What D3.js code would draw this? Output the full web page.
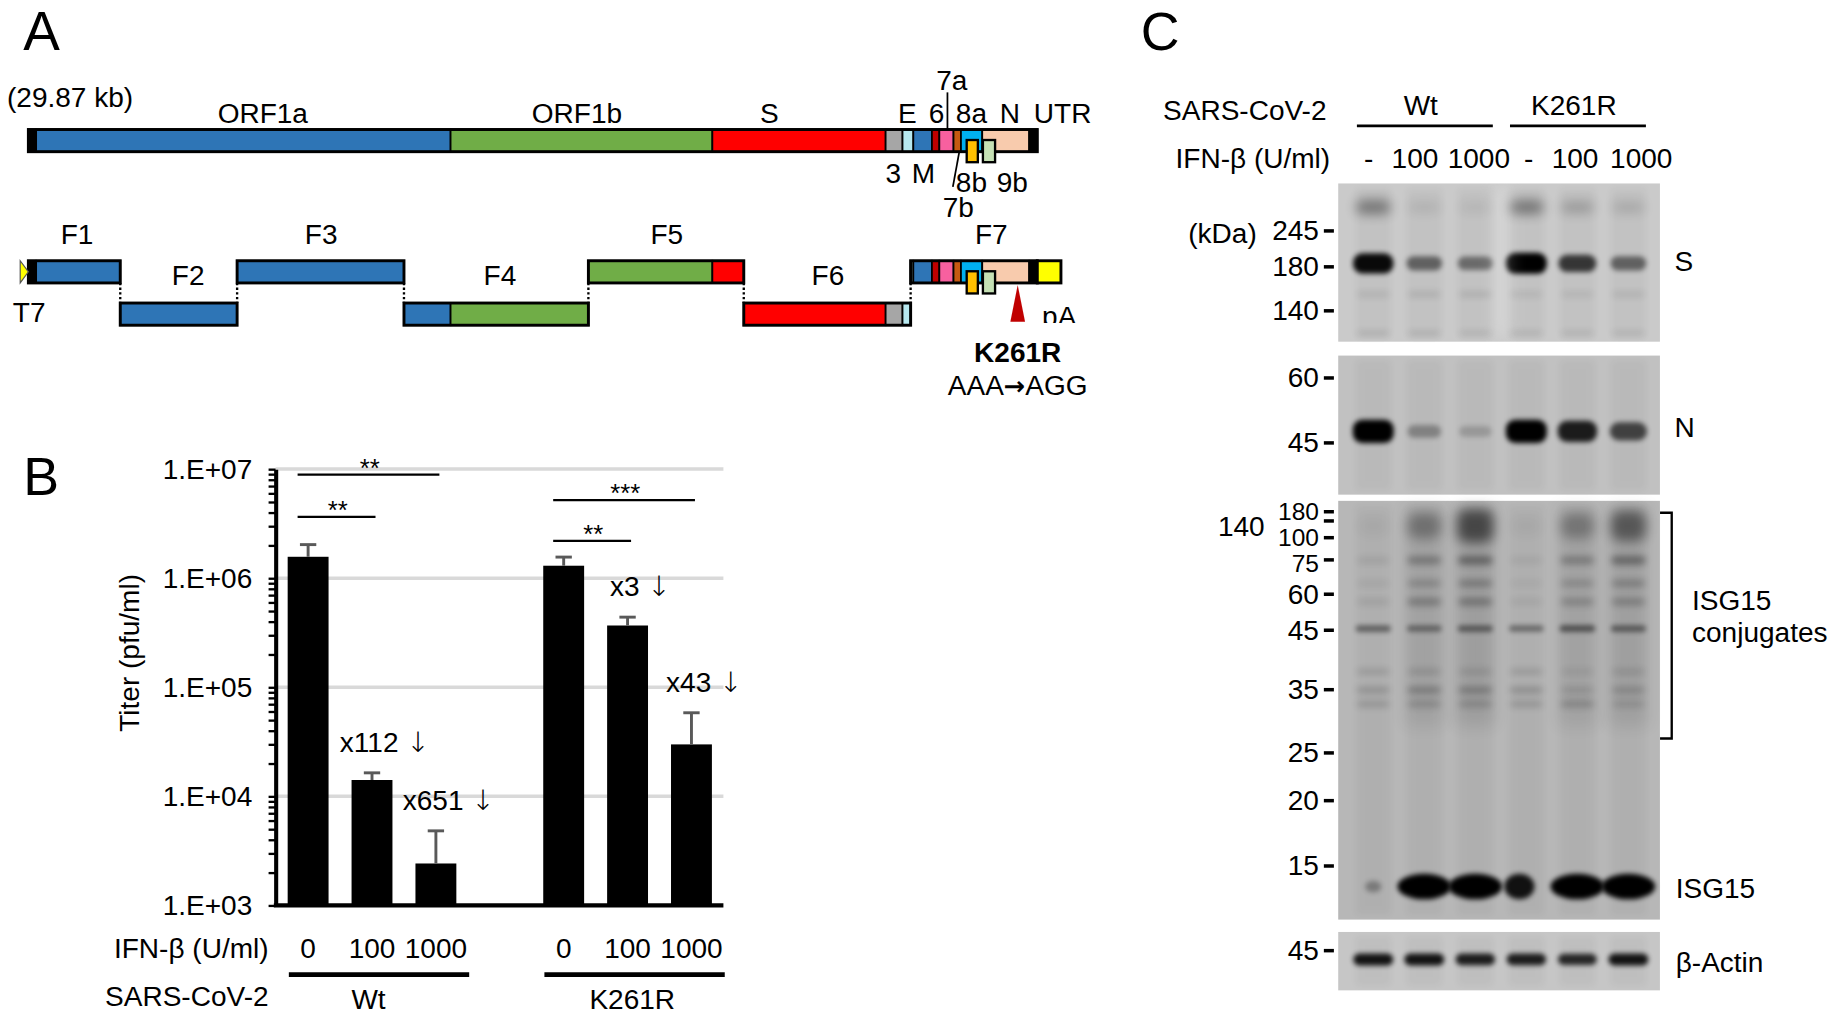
<!DOCTYPE html>
<html>
<head>
<meta charset="utf-8">
<script src="https://cdn.jsdelivr.net/npm/d3@7"></script>
<style>
  body { margin: 0; background: #fff; }
  text { font-family: "Liberation Sans", Arial, sans-serif; font-size: 24px; fill: #000; }
  .arrow { font-family: "DejaVu Sans", sans-serif; }
</style>
</head>
<body>
<div id="fig"></div>
<script>
// ---------------- Panel A : genome map (schematic, kb) ----------------
var genomeLength = 29.87;
var geneNames = ["5'", "ORF1a", "ORF1b", "S", "3", "E", "M", "6", "7a", "7b", "8a", "N", "UTR"];
var geneStart = [0, 0.23, 12.50, 20.25, 25.38, 25.88, 26.20, 26.75, 26.97, 27.39, 27.61, 28.24, 29.63];
var geneEnd   = [0.23, 12.50, 20.25, 25.38, 25.88, 26.20, 26.75, 26.97, 27.39, 27.61, 28.24, 29.63, 29.87];
var nestedNames = ["8b", "9b"];
var nestedStart = [27.78, 28.26];
var nestedEnd   = [28.11, 28.62];
var fragNames = ["F1", "F2", "F3", "F4", "F5", "F6", "F7"];
var fragStart = [0, 2.72, 6.18, 11.12, 16.58, 21.18, 26.12];
var fragEnd   = [2.72, 6.18, 11.12, 16.58, 21.18, 26.12, 29.87];
var polyA = [29.87, 30.57];
var mutationKb = 29.29;

// ---------------- Panel B : virus titers ----------------
var groups = ["Wt", "K261R"];
var doses = ["0", "100", "1000"];
var titer    = [1.57e6, 1.41e4, 2.42e3, 1.30e6, 3.68e5, 2.99e4];
var titerTop = [2.03e6, 1.64e4, 4.82e3, 1.56e6, 4.39e5, 5.83e4];   // mean + SD
var foldText = ["", "x112", "x651", "", "x3", "x43"];
var sigFrom  = [0, 0, 3, 3];
var sigTo    = [2, 1, 5, 4];
var sigLevel = [8.9e6, 3.65e6, 5.2e6, 2.2e6];
var sigText  = ["**", "**", "***", "**"];

// ---------------- Panel C : western blots ----------------
var laneGroups = ["Wt", "K261R"];
var laneDoses = ["-", "100", "1000", "-", "100", "1000"];
var sMarkers = [245, 180, 140],  sMarkerRf = [0.30, 0.527, 0.805];
var nMarkers = [60, 45],         nMarkerRf = [0.161, 0.628];
var isgMarkers = [180, 140, 100, 75, 60, 45, 35, 25, 20, 15];
var isgMarkerRf = [0.026, 0.048, 0.088, 0.141, 0.223, 0.309, 0.451, 0.602, 0.716, 0.872];
var actMarkers = [45],           actMarkerRf = [0.32];
// band rows: relative migration + intensity per lane
var sRows = [
  {rf: 0.15,  v: [0.4, 0.1, 0.08, 0.4, 0.22, 0.15]},
  {rf: 0.505, v: [0.95, 0.5, 0.45, 1.0, 0.72, 0.5]},
  {rf: 0.70,  v: [0.12, 0.14, 0.14, 0.1, 0.1, 0.12]},
  {rf: 0.95,  v: [0.14, 0.14, 0.12, 0.12, 0.12, 0.12]}
];
var nRows = [ {rf: 0.545, v: [1.0, 0.3, 0.18, 1.0, 0.85, 0.65]} ];
var isgRows = [
  {rf: 0.06,  v: [0.04, 0.3, 0.55, 0.04, 0.28, 0.45]},
  {rf: 0.142, v: [0.1, 0.3, 0.4, 0.08, 0.28, 0.38]},
  {rf: 0.197, v: [0.08, 0.22, 0.28, 0.06, 0.2, 0.25]},
  {rf: 0.241, v: [0.1, 0.28, 0.3, 0.08, 0.22, 0.25]},
  {rf: 0.305, v: [0.45, 0.4, 0.45, 0.4, 0.5, 0.45]},
  {rf: 0.408, v: [0.16, 0.16, 0.14, 0.16, 0.1, 0.14]},
  {rf: 0.452, v: [0.2, 0.28, 0.28, 0.22, 0.15, 0.2]},
  {rf: 0.485, v: [0.18, 0.2, 0.2, 0.18, 0.22, 0.15]}
];
var isgFree = [0.3, 1, 1, 0.9, 1, 1];
var actinRows = [ {rf: 0.47, v: [0.9, 0.9, 0.85, 0.85, 0.8, 0.9]} ];

// ---------------- drawing ----------------
var W = 1568, H = 869;
var svg = d3.select("#fig").append("svg")
    .attr("width", 1831).attr("height", 1015)
    .attr("viewBox", `0 0 ${W} ${H}`);

var defs = svg.append("defs");
[["b2", 2.2], ["b3", 3.2], ["b5", 5], ["b7", 7]].forEach(function(f) {
  defs.append("filter").attr("id", f[0]).attr("x", "-80%").attr("y", "-200%")
      .attr("width", "260%").attr("height", "500%")
    .append("feGaussianBlur").attr("stdDeviation", f[1]);
});
defs.append("clipPath").attr("id", "paClip")
  .append("rect").attr("x", 880).attr("y", 250).attr("width", 60).attr("height", 26.5);

var geneColor = {
  "5'": "#000", "ORF1a": "#2e75b6", "ORF1b": "#70ad47", "S": "#ff0000", "3": "#a6a6a6",
  "E": "#b7e8ef", "M": "#2e75b6", "6": "#c00000", "7a": "#f7609f", "7b": "#c55a11",
  "8a": "#00b0f0", "N": "#f8cbad", "UTR": "#000", "8b": "#ffc000", "9b": "#c5e0b4", "pA": "#ffff00"
};

function label(g, txt, x, y, anchor, size, weight) {
  return g.append("text").attr("x", x).attr("y", y)
    .attr("text-anchor", anchor || "middle")
    .style("font-size", (size || 24) + "px")
    .style("font-weight", weight || "normal")
    .text(txt);
}

// ===== Panel A =====
var gA = svg.append("g");
var xA = d3.scaleLinear().domain([0, genomeLength]).range([24.3, 888.3]);
var trackH = 19;

function drawTrack(from, to, y) {
  geneNames.forEach(function(n, i) {
    var s = Math.max(geneStart[i], from), e = Math.min(geneEnd[i], to);
    if (e <= s) return;
    gA.append("rect").attr("x", xA(s)).attr("y", y)
      .attr("width", xA(e) - xA(s)).attr("height", trackH)
      .attr("fill", geneColor[n]).attr("stroke", "#000").attr("stroke-width", 1.5);
  });
  gA.append("rect").attr("x", xA(from)).attr("y", y)
    .attr("width", xA(to) - xA(from)).attr("height", trackH)
    .attr("fill", "none").attr("stroke", "#000").attr("stroke-width", 2.5);
  nestedNames.forEach(function(n, i) {
    if (nestedStart[i] < from || nestedEnd[i] > to) return;
    gA.append("rect").attr("x", xA(nestedStart[i])).attr("y", y + 9)
      .attr("width", xA(nestedEnd[i]) - xA(nestedStart[i])).attr("height", trackH)
      .attr("fill", geneColor[n]).attr("stroke", "#000").attr("stroke-width", 2);
  });
}

label(gA, "A", 20, 43, "start", 47);
label(gA, "(29.87 kb)", 6, 91.5, "start");

// full genome
drawTrack(0, genomeLength, 110.8);
var topLabels = [["ORF1a", 6.94], ["ORF1b", 16.24], ["S", 21.94], ["E", 26.02], ["6", 26.89],
                 ["8a", 27.92], ["N", 29.06], ["UTR", 30.62]];
topLabels.forEach(function(d) { label(gA, d[0], xA(d[1]), 105.5); });
label(gA, "7a", xA(27.34), 77);
gA.append("line").attr("x1", xA(27.21)).attr("x2", xA(27.21)).attr("y1", 79).attr("y2", 111)
  .attr("stroke", "#000").attr("stroke-width", 1.5);
label(gA, "3", xA(25.61), 157); label(gA, "M", xA(26.50), 157);
label(gA, "8b", xA(27.92), 164); label(gA, "9b", xA(29.13), 164);
label(gA, "7b", xA(27.53), 186);
gA.append("line").attr("x1", xA(27.56)).attr("y1", 130).attr("x2", xA(27.37)).attr("y2", 160)
  .attr("stroke", "#000").attr("stroke-width", 1.5);

// fragments
var rowY = [223.2, 259.4];
var fragLabelKb = [1.44, 4.73, 8.67, 13.96, 18.90, 23.67, 28.51];
fragNames.forEach(function(n, i) {
  var y = rowY[i % 2];
  drawTrack(fragStart[i], fragEnd[i], y);
  label(gA, n, xA(fragLabelKb[i]), i % 2 === 0 ? 209 : 244);
  if (i < fragNames.length - 1) {
    gA.append("line").attr("x1", xA(fragEnd[i])).attr("x2", xA(fragEnd[i]))
      .attr("y1", rowY[0] + trackH).attr("y2", rowY[1])
      .attr("stroke", "#000").attr("stroke-width", 2).attr("stroke-dasharray", "2,2");
  }
});
// poly(A) tail on F7
gA.append("rect").attr("x", xA(polyA[0])).attr("y", rowY[0])
  .attr("width", xA(polyA[1]) - xA(polyA[0])).attr("height", trackH)
  .attr("fill", geneColor.pA).attr("stroke", "#000").attr("stroke-width", 2.5);
// T7 promoter
gA.append("path")
  .attr("d", `M${xA(0) - 7},${rowY[0]} L${xA(0)},${rowY[0] + trackH / 2} L${xA(0) - 7},${rowY[0] + trackH} Z`)
  .attr("fill", "#ffff00").attr("stroke", "#555").attr("stroke-width", 1);
label(gA, "T7", 25, 276);
gA.append("g").attr("clip-path", "url(#paClip)").call(function(g) { label(g, "pA", xA(30.52), 279); });
// mutation
var mx = xA(mutationKb);
gA.append("path").attr("d", `M${mx},244 L${mx + 6.3},275.5 L${mx - 6.3},275.5 Z`).attr("fill", "#c00000");
label(gA, "K261R", mx, 309.7, "middle", 24, "bold");
var mut = label(gA, "AAA", mx, 338);
mut.append("tspan").attr("class", "arrow").style("font-weight", "bold").style("font-size", "22px").text("\u2192");
mut.append("tspan").text("AGG");

// ===== Panel B =====
var gB = svg.append("g");
label(gB, "B", 20, 424, "start", 46);
var axisX = 236, axisEnd = 619.5;
var yB = d3.scaleLog().domain([1e3, 1e7]).range([775.2, 401.6]);
var slot = [0, 1, 2, 4, 5, 6];
var xB = d3.scaleBand().domain(d3.range(7)).range([236.5, 619.5]).paddingInner(0.36).paddingOuter(0.18);
var bw = xB.bandwidth();
function cx(i) { return xB(slot[i]) + bw / 2; }

var majors = [1e4, 1e5, 1e6, 1e7];
gB.selectAll("line.grid").data(majors).enter().append("line")
  .attr("x1", axisX).attr("x2", axisEnd).attr("y1", d => yB(d)).attr("y2", d => yB(d))
  .attr("stroke", "#d9d9d9").attr("stroke-width", 3);

var tickVals = [];
for (var k = 3; k < 7; k++) for (var m = 1; m < 10; m++) tickVals.push(m * Math.pow(10, k));
tickVals.push(1e7);
var yAxis = d3.axisLeft(yB).tickValues(tickVals).tickSizeInner(6).tickSizeOuter(0).tickPadding(14)
  .tickFormat(function(d) {
    var e = Math.log10(d);
    return Math.abs(e - Math.round(e)) < 1e-9 ? "1.E+0" + Math.round(e) : "";
  });
var ax = gB.append("g").attr("transform", `translate(${axisX},0)`).call(yAxis);
ax.attr("font-family", null).attr("font-size", null);
ax.select(".domain").attr("stroke-width", 3.5);
ax.selectAll(".tick line").attr("stroke-width", 2);
ax.selectAll(".tick text").style("font-size", "24px").attr("fill", "#000");

label(gB, "Titer (pfu/ml)", 0, 0).attr("transform", "translate(111,559) rotate(-90)").attr("dy", "0.35em");

// bars
gB.selectAll("rect.bar").data(titer).enter().append("rect")
  .attr("x", (d, i) => xB(slot[i])).attr("width", bw)
  .attr("y", d => yB(d)).attr("height", d => yB(1e3) - yB(d)).attr("fill", "#000");
// error bars and fold reductions
titerTop.forEach(function(t, i) {
  gB.append("line").attr("x1", cx(i)).attr("x2", cx(i)).attr("y1", yB(titer[i])).attr("y2", yB(t))
    .attr("stroke", "#595959").attr("stroke-width", 2.5);
  gB.append("line").attr("x1", cx(i) - 7).attr("x2", cx(i) + 7).attr("y1", yB(t)).attr("y2", yB(t))
    .attr("stroke", "#595959").attr("stroke-width", 2.5);
  if (foldText[i]) {
    var ft = label(gB, foldText[i] + " ", cx(i) + 11, yB(t) - 18);
    ft.append("tspan").attr("class", "arrow").style("font-weight", "200").text("\u2193");
  }
});
// x axis baseline
gB.append("line").attr("x1", axisX - 1.5).attr("x2", axisEnd).attr("y1", yB(1e3)).attr("y2", yB(1e3))
  .attr("stroke", "#000").attr("stroke-width", 3.5);
// significance
sigFrom.forEach(function(a, i) {
  var y = yB(sigLevel[i]);
  var x1 = cx(a) - 9, x2 = cx(sigTo[i]) + 3;
  gB.append("line").attr("x1", x1).attr("x2", x2).attr("y1", y).attr("y2", y)
    .attr("stroke", "#000").attr("stroke-width", 2);
  label(gB, sigText[i], (x1 + x2) / 2 + 1, y + 2, "middle", 22);
});
// x labels
label(gB, "IFN-\u03b2 (U/ml)", 230, 820, "end");
label(gB, "SARS-CoV-2", 230, 861, "end");
titer.forEach(function(d, i) { label(gB, doses[i % 3], cx(i), 820); });
groups.forEach(function(gname, j) {
  var first = j * 3, last = j * 3 + 2;
  gB.append("line").attr("x1", xB(slot[first]) + 1).attr("x2", xB(slot[last]) + bw + 11)
    .attr("y1", 834.5).attr("y2", 834.5).attr("stroke", "#000").attr("stroke-width", 4);
  label(gB, gname, cx(first + 1) + (j ? 4 : -3), 864);
});

// ===== Panel C =====
var gC = svg.append("g");
label(gC, "C", 977, 42.5, "start", 46);
var lane = d3.scalePoint().domain(d3.range(6)).range([1176, 1394.5]);
label(gC, "SARS-CoV-2", 996, 102.5, "start");
label(gC, "IFN-\u03b2 (U/ml)", 1006.7, 143.5, "start");
var laneLabelShift = [-4, -8, 3, 2, -2, 11];
laneDoses.forEach(function(d, i) { label(gC, d, lane(i) + laneLabelShift[i], 143.5); });
laneGroups.forEach(function(gname, j) {
  var a = lane(j * 3), b = lane(j * 3 + 2);
  gC.append("line").attr("x1", a - 14).attr("x2", b + 15).attr("y1", 107.7).attr("y2", 107.7)
    .attr("stroke", "#000").attr("stroke-width", 2.5);
  label(gC, gname, (a + b) / 2 - 3, 98.3);
});
label(gC, "(kDa)", 1017.6, 208, "start");

var blotX0 = 1146, blotX1 = 1421.5;

// opts.rowH: band height at full intensity, opts.rowBlur: blur filter per row
function blot(y0, y1, bg, rows, markers, markerRf, opts) {
  var yr = d3.scaleLinear().domain([0, 1]).range([y0, y1]);
  var g = gC.append("g");
  g.append("rect").attr("x", blotX0).attr("y", y0).attr("width", blotX1 - blotX0).attr("height", y1 - y0)
    .attr("fill", bg);
  var inner = g.append("g");
  d3.range(6).forEach(function(i) {
    inner.append("rect").attr("x", lane(i) - 15).attr("y", y0 + 4).attr("width", 30).attr("height", y1 - y0 - 8)
      .attr("fill", "#000").attr("opacity", 0.035).attr("filter", "url(#b3)");
  });
  rows.forEach(function(r, ri) {
    r.v.forEach(function(v, i) {
      var h = opts.rowH[ri] * (0.35 + 0.65 * v);
      var w = 26 + 9 * v;
      inner.append("rect").attr("x", lane(i) - w / 2).attr("y", yr(r.rf) - h / 2)
        .attr("width", w).attr("height", h).attr("rx", Math.min(h / 2, 8))
        .attr("fill", "#000").attr("opacity", Math.min(1, v))
        .attr("filter", "url(#" + opts.rowBlur[ri] + ")");
    });
  });
  markers.forEach(function(m, i) {
    var y = yr(markerRf[i]);
    g.append("line").attr("x1", 1133.7).attr("x2", 1142.3).attr("y1", y).attr("y2", y)
      .attr("stroke", "#000").attr("stroke-width", 3);
    var nudge = (opts.nudge && opts.nudge[m]) || 0;
    if (opts.side === m) label(g, m, 1083, y + 12.5, "end");
    else label(g, m, 1129.5, y + 8 + nudge, "end", opts.small && opts.small.indexOf(m) >= 0 ? 21 : 24);
  });
  return {g: inner, yr: yr};
}

var sPanel = blot(157, 292.5, "#cacaca", sRows, sMarkers, sMarkerRf,
  {rowH: [20, 18, 9, 9], rowBlur: ["b5", "b2", "b3", "b3"]});
sPanel.g.append("rect").attr("x", 1278).attr("y", 160).attr("width", 16).attr("height", 128)
  .attr("fill", "#fff").attr("opacity", 0.2).attr("filter", "url(#b7)");
label(gC, "S", 1434, 232, "start");

blot(304.4, 423.5, "#c1c1c1", nRows, nMarkers, nMarkerRf, {rowH: [20], rowBlur: ["b2"]});
label(gC, "N", 1434, 374.5, "start");

var isg = blot(428.8, 787.4, "#b7b7b7", isgRows, isgMarkers, isgMarkerRf,
  {rowH: [40, 12, 11, 12, 9, 10, 11, 11], rowBlur: ["b5", "b3", "b3", "b3", "b2", "b3", "b3", "b3"],
   side: 140, small: [180, 100, 75], nudge: {180: -1, 100: -1, 75: 2}});
// conjugate smear in IFN-treated lanes
[1, 2, 4, 5].forEach(function(i) {
  var v = isgRows[0].v[i];
  isg.g.append("rect").attr("x", lane(i) - 17).attr("y", 432).attr("width", 34).attr("height", 190)
    .attr("fill", "#000").attr("opacity", 0.05 + 0.08 * v).attr("filter", "url(#b7)");
});
// free ISG15
isgFree.forEach(function(v, i) {
  var w = v < 0.5 ? 14 : (v < 0.95 ? 26 : 46);
  var h = v < 0.5 ? 10 : 22;
  isg.g.append("ellipse").attr("cx", lane(i) + (i === 3 ? -6 : 0)).attr("cy", isg.yr(0.921))
    .attr("rx", w / 2).attr("ry", h / 2)
    .attr("fill", "#000").attr("opacity", v).attr("filter", "url(#b2)");
});
gC.append("path").attr("d", "M1421.6,439 H1431.6 V632.3 H1421.6")
  .attr("fill", "none").attr("stroke", "#000").attr("stroke-width", 2);
label(gC, "ISG15", 1449, 522.5, "start");
label(gC, "conjugates", 1449, 550, "start");
label(gC, "ISG15", 1435, 769, "start");

blot(798, 848, "#c6c6c6", actinRows, actMarkers, actMarkerRf, {rowH: [11], rowBlur: ["b2"]});
label(gC, "\u03b2-Actin", 1435, 832, "start");
</script>
</body>
</html>
